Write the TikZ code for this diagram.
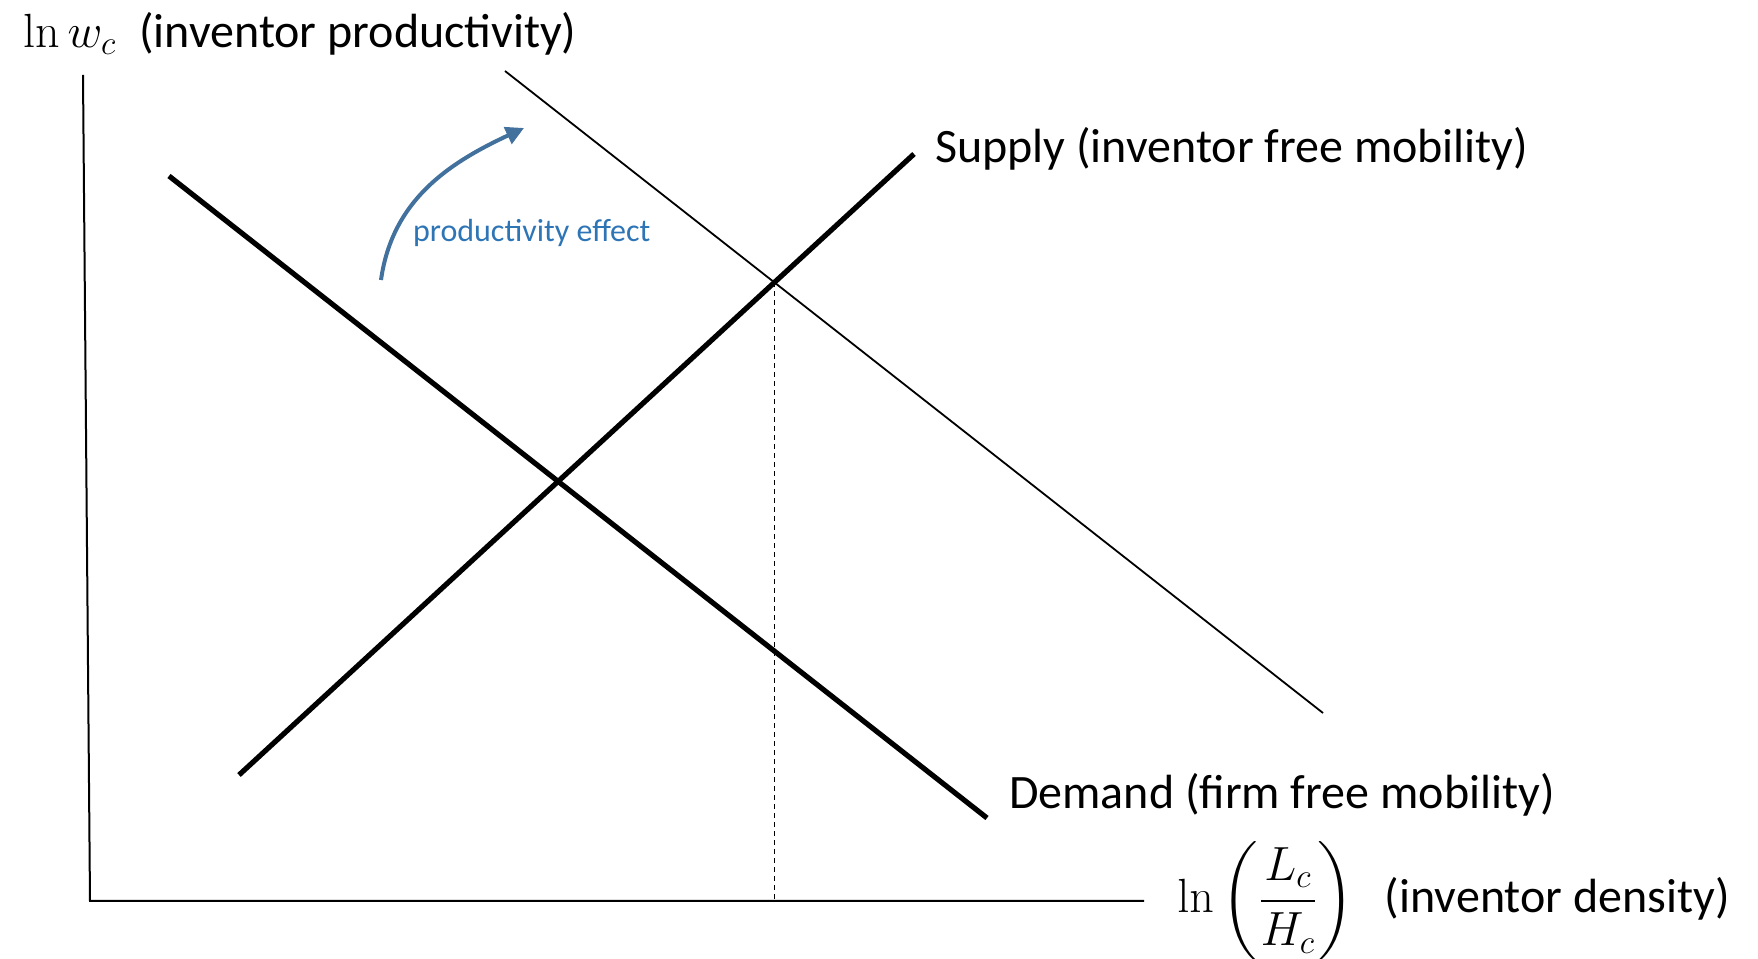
\documentclass[tikz,border=0pt]{standalone}
\usepackage{fix-cm}
\usepackage{amsmath}
\usepackage[no-math]{fontspec}
\setmainfont{Carlito}
\usetikzlibrary{arrows.meta, calc, intersections}
\definecolor{shiftblue}{RGB}{65,113,156}
\definecolor{labelblue}{RGB}{46,117,182}

\begin{document}
\begin{tikzpicture}[x=0.5pt, y=0.5pt, font=\fontsize{24}{28}\selectfont]
\useasboundingbox (0,0) rectangle (1758,959);
% axes
\coordinate (O) at (90,58);
\coordinate (ytop) at (83,884);
\coordinate (xend) at (1144,58);
\draw[line width=1pt] (ytop) -- (O) -- (xend);
\node[anchor=west] (ylab) at (16,925) {$\ln w_c$\hspace{6pt} (inventor productivity)};
\node[anchor=west, inner sep=0pt] (xlab) at (1177,58) {$\ln\left(\dfrac{L_c}{H_c}\right)$\hspace{10pt} (inventor density)};
% supply, demand and shifted demand
\coordinate (s1) at (239,184);
\coordinate (s2) at (914,805);
\coordinate (d1) at (169,783);
\coordinate (d2) at (987,141);
\coordinate (t1) at (505,888);
\coordinate (t2) at (1323,246);
\draw[line width=2.6pt, name path=supply] (s1) -- (s2);
\draw[line width=2.6pt] (d1) -- (d2);
\draw[line width=0.9pt, name path=shifted] (t1) -- (t2);
\path[name intersections={of=supply and shifted, by=E}];
\draw[line width=0.6pt, dash pattern=on 2.5pt off 2pt] (E) -- (E |- O);
\node[anchor=west] (slab) at (928,810) {Supply (inventor free mobility)};
\node[anchor=west] (dlab) at (1002,164) {Demand (firm free mobility)};
% productivity effect
\coordinate (a1) at (381,679);
\coordinate (a2) at (524,831);
\draw[shiftblue, line width=2pt, -{Triangle[length=9pt, width=9pt]}] (a1) to[out=82, in=205] (a2);
\node[labelblue, anchor=west, font=\fontsize{16}{19}\selectfont] (plab) at (406,726) {productivity effect};
\end{tikzpicture}
\end{document}
